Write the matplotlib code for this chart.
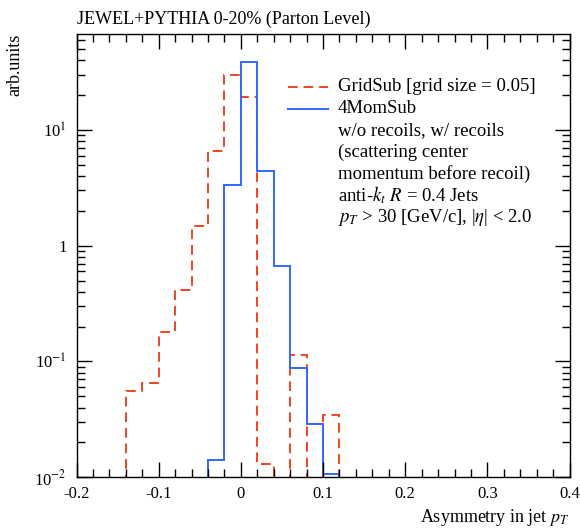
import numpy as np
import matplotlib
matplotlib.use("Agg")
import matplotlib.pyplot as plt
from matplotlib.ticker import FixedLocator, FixedFormatter, MultipleLocator, NullFormatter

plt.rcParams["font.family"] = ["Liberation Serif", "DejaVu Serif"]
plt.rcParams["mathtext.fontset"] = "stix"

# ---- data: bins of width 0.02 from -0.16 to 0.14 (empty bins = 0) ----
edges = np.round(np.arange(-0.16, 0.1401, 0.02), 2)
gridsub = [0.0, 0.056, 0.065, 0.18, 0.41, 1.49, 6.6, 30.0, 19.4, 0.0129, 0.0, 0.114, 0.0, 0.0347, 0.0]
fourmom = [0.0, 0.0, 0.0, 0.0, 0.0, 0.0, 0.0142, 3.33, 38.8, 4.43, 0.673, 0.088, 0.029, 0.0107, 0.0]

legend_lines = [
    "w/o recoils, w/ recoils",
    "(scattering center",
    "momentum before recoil)",
    "anti-$k_t$ $R$ = 0.4 Jets",
    "$p_T$ > 30 [GeV/c], |$\\eta$| < 2.0",
]

red = "#EE4422"
blue = "#3366FF"

fig = plt.figure(figsize=(5.8, 5.3), dpi=100)
ax = fig.add_axes([0.132, 0.0995, 0.850, 0.836])

# zero bins drawn down below the axis
g = np.where(np.array(gridsub) > 0, gridsub, 1e-6)
f = np.where(np.array(fourmom) > 0, fourmom, 1e-6)
ax.stairs(g, edges, color=red, lw=1.4, linestyle=(0, (5, 3)), baseline=None)
ax.stairs(f, edges, color=blue, lw=1.4, baseline=None)

ax.set_yscale("log")
ax.set_xlim(-0.2, 0.4)
ax.set_ylim(0.01, 67)

xt = [-0.2, -0.1, 0, 0.1, 0.2, 0.3, 0.4]
ax.xaxis.set_major_locator(FixedLocator(xt))
ax.xaxis.set_major_formatter(FixedFormatter(["-0.2", "-0.1", "0", "0.1", "0.2", "0.3", "0.4"]))
ax.xaxis.set_minor_locator(MultipleLocator(0.02))

ax.yaxis.set_major_locator(FixedLocator([0.01, 0.1, 1, 10]))
ax.yaxis.set_major_formatter(FixedFormatter(["10$^{-2}$", "10$^{-1}$", "1", "10$^{1}$"]))
ax.yaxis.set_minor_formatter(NullFormatter())

ax.tick_params(which="both", direction="in", top=True, right=True, labelsize=12)
ax.tick_params(which="major", length=11, width=1)
ax.tick_params(which="minor", length=5.5, width=1)
ax.tick_params(axis="y", pad=7)
ax.tick_params(axis="x", pad=6)
for s in ax.spines.values():
    s.set_linewidth(1)

ax.set_ylabel("arb.units", fontsize=13, loc="top", labelpad=8)
ax.set_xlabel("Asymmetry in jet $p_T$", fontsize=13, loc="right")
ax.text(0, 1.015, "JEWEL+PYTHIA 0-20% (Parton Level)", transform=ax.transAxes,
        fontsize=13, ha="left", va="bottom")

# legend drawn by hand
x0, x1, xt0 = 0.429, 0.510, 0.530
y0, dy = 0.881, 0.049
ax.plot([x0, x1], [y0, y0], transform=ax.transAxes, color=red, lw=1.4, linestyle=(0, (5, 3)))
ax.plot([x0, x1], [y0 - dy, y0 - dy], transform=ax.transAxes, color=blue, lw=1.4)
ax.text(xt0, y0, "GridSub [grid size = 0.05]", transform=ax.transAxes, fontsize=13.5, va="center")
ax.text(xt0, y0 - dy, "4MomSub", transform=ax.transAxes, fontsize=13.5, va="center")
for i, line in enumerate(legend_lines):
    ax.text(xt0, y0 - (i + 2) * dy, line, transform=ax.transAxes, fontsize=13.5, va="center")

fig.savefig("out.png", dpi=100)
